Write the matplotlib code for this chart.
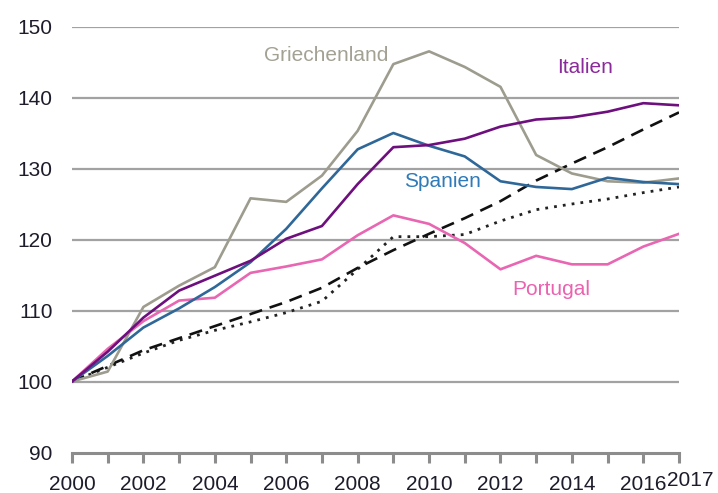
import matplotlib
matplotlib.use("Agg")
import matplotlib.pyplot as plt
import matplotlib.transforms as mtransforms

years = list(range(2000, 2018))
griechenland = [100, 101.4, 110.5, 113.5, 116.1, 125.8, 125.3, 129.0, 135.3, 144.7,
                146.5, 144.3, 141.5, 131.9, 129.3, 128.2, 128.0, 128.6]
italien = [100, 104.2, 109.0, 112.8, 114.9, 117.0, 120.1, 121.9, 127.8, 133.0,
           133.3, 134.2, 135.9, 136.9, 137.2, 138.0, 139.2, 138.9]
spanien = [100, 103.6, 107.6, 110.3, 113.3, 116.8, 121.5, 127.2, 132.7, 135.0,
           133.2, 131.7, 128.2, 127.4, 127.1, 128.7, 128.1, 127.8]
portugal = [100, 104.6, 108.5, 111.4, 111.8, 115.3, 116.2, 117.2, 120.6, 123.4,
            122.2, 119.5, 115.8, 117.7, 116.5, 116.5, 119.0, 120.8]
gestrichelt = [100, 102.2, 104.4, 106.1, 107.8, 109.5, 111.2, 113.2, 116.0, 118.5,
               120.8, 123.0, 125.4, 128.3, 130.7, 133.0, 135.5, 137.9]
gepunktet = [100, 102.0, 104.0, 105.8, 107.2, 108.4, 109.7, 111.3, 115.8, 120.4,
             120.4, 120.7, 122.6, 124.2, 125.0, 125.7, 126.6, 127.4]

y_ticks = [90, 100, 110, 120, 130, 140, 150]
x_tick_labels = ["2000", "", "2002", "", "2004", "", "2006", "", "2008", "",
                 "2010", "", "2012", "", "2014", "", "2016", "2017"]

labels = ["Griechenland", "Italien", "Spanien", "Portugal"]
label_pos = [(2007.12, 145.9), (2014.37, 144.2), (2010.39, 128.2), (2013.42, 112.9)]

c_gr = "#9d9c8e"
c_it = "#6e0f7e"
c_es = "#2f6898"
c_pt = "#e866b2"
label_colors = ["#a3a193", "#8b2a9a", "#2f7ab8", "#ea62b0"]

plt.rcParams["font.family"] = ["Liberation Sans", "DejaVu Sans"]

fig = plt.figure(figsize=(7.18, 4.93), dpi=100)
ax = fig.add_axes([72 / 718, 1 - 452.5 / 493, (679 - 72) / 718, (452.5 - 26.5) / 493])

for yv in y_ticks[1:]:
    ax.axhline(yv, color="#a2a2a2", lw=1.6, zorder=1)

lw = 1.9
ax.plot(years, gepunktet, color="#222222", lw=2.0, dashes=(1, 2.2), zorder=3)
ax.plot(years, gestrichelt, color="#111111", lw=1.9, dashes=(5, 3), zorder=3)
ax.plot(years, griechenland, color=c_gr, lw=lw, zorder=4)
ax.plot(years, portugal, color=c_pt, lw=lw, zorder=4)
ax.plot(years, spanien, color=c_es, lw=lw, zorder=5)
ax.plot(years, italien, color=c_it, lw=lw, zorder=5)

for lab, (lx, ly), col in zip(labels, label_pos, label_colors):
    ax.text(lx, ly, lab, color=col, fontsize=15, ha="center", va="center")

ax.set_xlim(2000, 2017)
ax.set_ylim(90, 150)
ax.set_yticks(y_ticks)
ax.set_yticklabels([str(v) for v in y_ticks])
ax.set_xticks(years)
ax.set_xticklabels(x_tick_labels)

for s in ["left", "right", "top"]:
    ax.spines[s].set_visible(False)
ax.spines["bottom"].set_color("#8c8c8c")
ax.spines["bottom"].set_linewidth(2.2)
ax.spines["bottom"].set_zorder(6)

ax.tick_params(axis="y", length=0, pad=14, labelsize=15, labelcolor="#1c1c2a")
ax.tick_params(axis="x", length=7.5, width=2.2, color="#8c8c8c", direction="out",
               pad=9, labelsize=15, labelcolor="#1c1c2a")

# raise and shift the final "2017" label as in the original
lbls = ax.get_xticklabels()
offset = mtransforms.ScaledTranslation(8 / 72, 3.5 / 72, fig.dpi_scale_trans)
lbls[-1].set_transform(lbls[-1].get_transform() + offset)

fig.savefig("out.png", dpi=100)
